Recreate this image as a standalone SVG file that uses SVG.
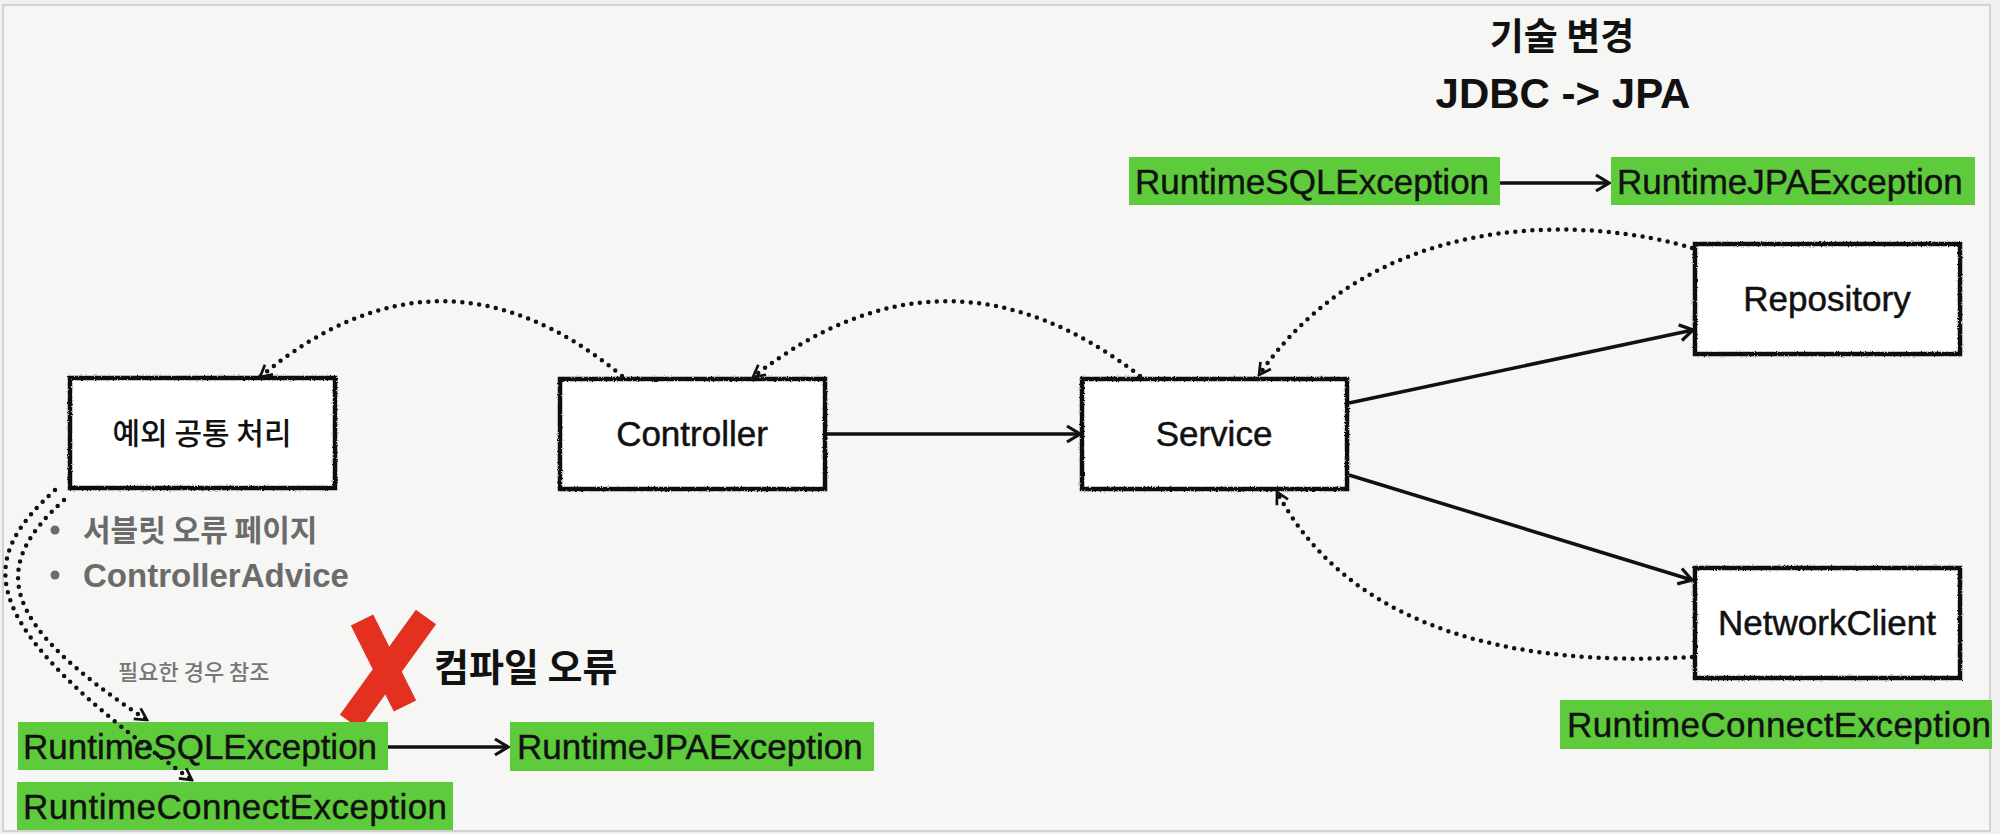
<svg xmlns="http://www.w3.org/2000/svg" width="2000" height="834" viewBox="0 0 2000 834">
  <defs>
    <style>
      .box { fill: #ffffff; stroke: #111111; stroke-width: 4.5; }
      .lbl { font-family: "Liberation Sans", Arial, sans-serif; font-size: 35px; fill: #111111; stroke: #111111; stroke-width: 0.5; text-anchor: middle; }
      .kr { font-family: "Noto Sans CJK KR", "Liberation Sans", sans-serif; }
      .exc { fill: #5dcb3b; }
      .exct { font-family: "Liberation Sans", Arial, sans-serif; font-size: 35px; fill: #111111; stroke: #111111; stroke-width: 0.4; }
      .solid { fill: none; stroke: #111111; stroke-width: 3.5; marker-end: url(#arr); }
      .dot { fill: none; stroke: #111111; stroke-width: 4.5; stroke-linecap: round; stroke-dasharray: 0 8.5; marker-end: url(#arrd); }
      .gray { fill: #6b6b6b; font-weight: bold; }
    </style>
    <marker id="arr" viewBox="0 0 20 20" refX="18" refY="10" markerWidth="20" markerHeight="20" markerUnits="userSpaceOnUse" orient="auto">
      <path d="M5,2 L18,10 L5,18" fill="none" stroke="#111111" stroke-width="3.2" stroke-dasharray="none"/>
    </marker>
    <marker id="arrd" viewBox="0 0 20 20" refX="18" refY="10" markerWidth="18" markerHeight="18" markerUnits="userSpaceOnUse" orient="auto">
      <path d="M5,3 L18,10 L5,17" fill="none" stroke="#111111" stroke-width="3" stroke-dasharray="none"/>
    </marker>
    <filter id="rough" x="-5%" y="-10%" width="110%" height="120%">
      <feTurbulence type="fractalNoise" baseFrequency="0.7" numOctaves="1" seed="4"/>
      <feDisplacementMap in="SourceGraphic" scale="3"/>
    </filter>
  </defs>

  <rect x="0" y="0" width="2000" height="834" fill="#f1f1f1"/>
  <rect x="3" y="5" width="1987" height="826" fill="#f6f6f5" stroke="#d2d2d2" stroke-width="2"/>

  <g id="title">
    <text x="1562" y="50" class="kr" font-size="37" font-weight="bold" fill="#111111" text-anchor="middle">기술 변경</text>
    <text x="1563" y="108" font-family="Liberation Sans, Arial, sans-serif" font-size="42" font-weight="bold" fill="#111111" text-anchor="middle">JDBC -&gt; JPA</text>
  </g>

  <g id="node-handler">
    <rect class="box" filter="url(#rough)" x="70" y="378" width="265" height="110"/>
    <text x="202" y="444" class="kr" font-size="30" font-weight="500" fill="#111111" text-anchor="middle">예외 공통 처리</text>
  </g>
  <g id="node-controller">
    <rect class="box" filter="url(#rough)" x="560" y="379" width="265" height="110"/>
    <text x="692" y="446" class="lbl">Controller</text>
  </g>
  <g id="node-service">
    <rect class="box" filter="url(#rough)" x="1082" y="379" width="265" height="110"/>
    <text x="1214" y="446" class="lbl">Service</text>
  </g>
  <g id="node-repository">
    <rect class="box" filter="url(#rough)" x="1695" y="244" width="265" height="110"/>
    <text x="1827" y="311" class="lbl">Repository</text>
  </g>
  <g id="node-networkclient">
    <rect class="box" filter="url(#rough)" x="1695" y="568" width="265" height="110"/>
    <text x="1827" y="635" class="lbl">NetworkClient</text>
  </g>

  <g id="bullets">
    <circle cx="55" cy="530" r="4.5" fill="#6b6b6b"/>
    <text x="83" y="541" class="kr gray" font-size="30">서블릿 오류 페이지</text>
    <circle cx="55" cy="575" r="4.5" fill="#6b6b6b"/>
    <text x="83" y="587" font-family="Liberation Sans, Arial, sans-serif" font-size="33" class="gray">ControllerAdvice</text>
  </g>

  <g id="note-ref">
    <text x="118" y="680" class="kr" font-size="22" font-weight="500" fill="#777777">필요한 경우 참조</text>
  </g>

  <g id="compile-error">
    <path d="M362,620 L405,706" fill="none" stroke="#e3301f" stroke-width="25"/>
    <path d="M426,617 L350,722" fill="none" stroke="#e3301f" stroke-width="25"/>
    <text x="434" y="681" class="kr" font-size="38" font-weight="bold" fill="#111111">컴파일 오류</text>
  </g>

  <g id="exc-top-sql">
    <rect class="exc" x="1129" y="157" width="371" height="48"/>
    <text x="1135" y="194" class="exct">RuntimeSQLException</text>
  </g>
  <g id="exc-top-jpa">
    <rect class="exc" x="1611" y="157" width="364" height="48"/>
    <text x="1617" y="194" class="exct">RuntimeJPAException</text>
  </g>
  <g id="exc-right-connect">
    <rect class="exc" x="1560" y="700" width="432" height="49"/>
    <text x="1567" y="737" class="exct" textLength="424">RuntimeConnectException</text>
  </g>
  <g id="exc-bottom-sql">
    <rect class="exc" x="18" y="722" width="370" height="48"/>
    <text x="23" y="759" class="exct">RuntimeSQLException</text>
  </g>
  <g id="exc-bottom-jpa">
    <rect class="exc" x="510" y="722" width="364" height="49"/>
    <text x="517" y="759" class="exct">RuntimeJPAException</text>
  </g>
  <g id="exc-bottom-connect">
    <rect class="exc" x="17" y="782" width="436" height="48"/>
    <text x="23" y="819" class="exct" textLength="424">RuntimeConnectException</text>
  </g>

  <g id="connectors">
    <path class="solid" d="M827,434 L1080,434"/>
    <path class="solid" d="M1349,403 L1693,330"/>
    <path class="solid" d="M1349,475 L1692,580"/>
    <path class="solid" d="M1500,183 L1609,183"/>
    <path class="solid" d="M388,747 L508,747"/>
    <path class="dot" d="M622,376 Q441,226 260,377"/>
    <path class="dot" d="M1140,376 Q946,226 753,377"/>
    <path class="dot" d="M1692,248 C1600,220 1380,200 1259,375"/>
    <path class="dot" d="M1692,657 C1560,665 1360,650 1277,492"/>
    <path class="dot" d="M55,490 C-22,560 -32,620 192,780"/>
    <path class="dot" d="M64,500 C-8,565 -6,620 147,720"/>
  </g>
</svg>
